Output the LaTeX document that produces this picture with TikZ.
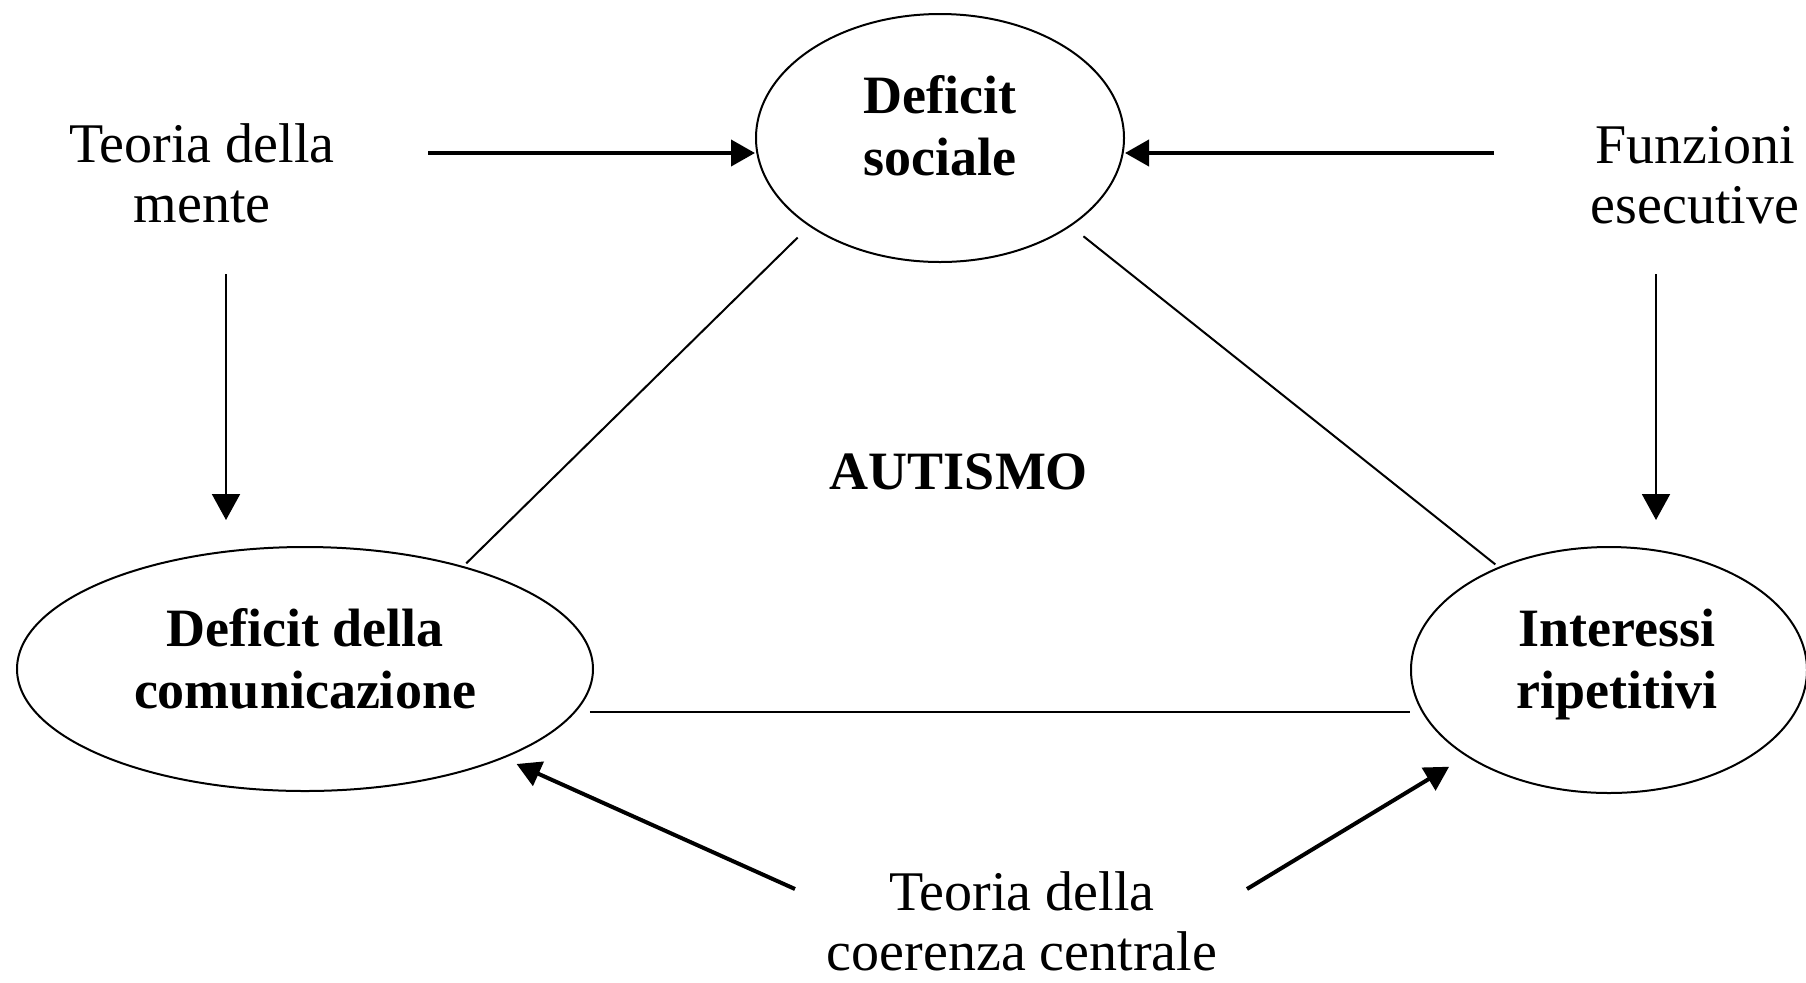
\documentclass[tikz,border=0pt]{standalone}
\usepackage{fontspec}
\setmainfont{Liberation Serif}
\usetikzlibrary{shapes.geometric, arrows.meta}
\tikzstyle{bubble} = [ellipse, draw=black, line width=1pt, inner sep=0pt]
\tikzstyle{bubbletext} = [align=center, font=\bfseries\fontsize{27}{31}\selectfont]
\tikzstyle{theory} = [align=center, font=\fontsize{28}{30}\selectfont]
\tikzstyle{arrow} = [line width=2pt, -{Triangle[length=12pt,width=13pt]}]
\tikzstyle{thinarrow} = [line width=1pt, -{Triangle[length=13pt,width=14pt]}]
\tikzstyle{side} = [line width=1pt]

\begin{document}
\begin{tikzpicture}[x=0.5pt, y=-0.5pt]
    \useasboundingbox (0,0) rectangle (1806,982);

    \node (soc) [bubble, minimum width=184pt, minimum height=124pt, label={[bubbletext, yshift=6pt]center:{Deficit\\sociale}}] at (940,138) {};
    \node (com) [bubble, minimum width=288pt, minimum height=122pt, label={[bubbletext, yshift=5pt]center:{Deficit della\\comunicazione}}] at (305,669) {};
    \node (rip) [bubble, minimum width=198pt, minimum height=123pt, label={[bubbletext, xshift=4pt, yshift=3pt]center:{Interessi\\ripetitivi}}] at (1609,670) {};

    \node (aut) [bubbletext] at (959,472) {AUTISMO};

    \node (tom) [theory] at (202,173) {Teoria della\\mente};
    \node (fe) [theory] at (1695,175) {Funzioni\\esecutive};
    \node (tcc) [theory] at (1022,921) {Teoria della\\coerenza centrale};

    \coordinate (tomR) at (428,153);
    \coordinate (feL) at (1494,153);
    \coordinate (tomB) at (226,274);
    \coordinate (feB) at (1656,274);
    \coordinate (tccL) at (795,889);
    \coordinate (tccR) at (1247,889);

    \draw [arrow] (tomR) -- (soc.west |- tomR);
    \draw [arrow] (feL) -- (soc.east |- feL);

    \draw [thinarrow, shorten >=13pt] (tomB) -- (tomB |- com.north);
    \draw [thinarrow, shorten >=13pt] (feB) -- (feB |- rip.north);

    \draw [arrow, shorten >=7pt] (tccL) -- (com);
    \draw [arrow, shorten >=10pt] (tccR) -- (rip);

    \draw [side, shorten <=8pt, shorten >=2pt] (soc.214) -- (com.33);
    \draw [side, shorten <=8pt, shorten >=2pt] (soc.-34) -- (rip.137);
    \draw [side, shorten <=7pt] (com.-9) -- (com.-9 -| rip.west);
\end{tikzpicture}
\end{document}
